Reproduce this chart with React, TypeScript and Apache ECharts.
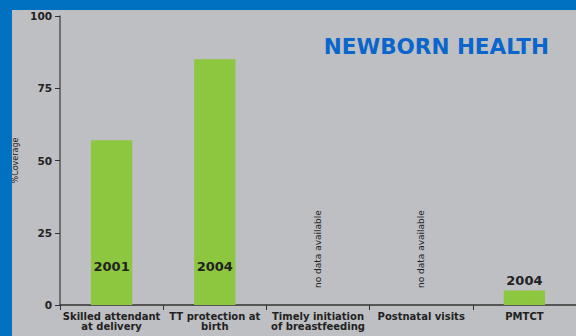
import React, { useEffect, useRef } from "react";
import * as echarts from "echarts";

const categories = [
  "Skilled attendant\nat delivery",
  "TT protection at\nbirth",
  "Timely initiation\nof breastfeeding",
  "Postnatal visits",
  "PMTCT",
];
const coverage: (number | null)[] = [57, 85, null, null, 5];
const yearLabels = ["2001", "2004", "", "", "2004"];
const noDataFlags = [false, false, true, true, false];
const yTicks = [0, 25, 50, 75, 100];
const titleText = "NEWBORN HEALTH";
const yAxisName = "%Coverage";

const FONT = "DejaVu Sans, Verdana, sans-serif";

export default function App() {
  const ref = useRef<HTMLDivElement>(null);
  useEffect(() => {
    document.body.style.margin = "0";
    const chart = echarts.init(ref.current!, null, { renderer: "svg" });
    const barData = coverage.map((v, i) => {
      const isLast = i === coverage.length - 1;
      return {
        value: v === null ? 0 : v,
        label: {
          show: yearLabels[i] !== "",
          formatter: yearLabels[i],
          position: isLast ? "top" : "insideBottom",
          distance: isLast ? 4 : 32,
          fontSize: 13,
          fontWeight: "bold",
          color: "#222",
          fontFamily: FONT,
        },
      };
    });
    const noData = noDataFlags.map((f) => ({
      value: 0,
      label: {
        show: f,
        formatter: "no data available",
        position: "top",
        distance: 17,
        rotate: 90,
        align: "left",
        verticalAlign: "middle",
        fontSize: 9,
        color: "#222",
        fontFamily: FONT,
      },
    }));
    chart.setOption({
      animation: false,
      backgroundColor: "#BEBFC3",
      graphic: [
        { type: "rect", left: 0, top: 0, shape: { width: 576, height: 10 }, style: { fill: "#0070C0" }, z: 100 },
        { type: "rect", left: 0, top: 0, shape: { width: 12, height: 336 }, style: { fill: "#0070C0" }, z: 100 },
      ],
      title: {
        text: titleText,
        right: 22,
        top: 30,
        textStyle: { color: "#0A66CC", fontSize: 21.5, fontWeight: "bold", fontFamily: FONT },
      },
      grid: { left: 60, right: -4, top: 16, bottom: 31, containLabel: false },
      xAxis: {
        type: "category",
        data: categories,
        axisLine: { lineStyle: { color: "#333", width: 1.5 } },
        axisTick: { show: true, length: 5, lineStyle: { color: "#333" } },
        axisLabel: {
          interval: 0,
          margin: 6,
          fontSize: 10,
          lineHeight: 10,
          fontWeight: "bold",
          color: "#222",
          fontFamily: FONT,
        },
      },
      yAxis: {
        type: "value",
        min: yTicks[0],
        max: yTicks[yTicks.length - 1],
        interval: 25,
        name: yAxisName,
        nameLocation: "middle",
        nameGap: 38,
        nameTextStyle: { fontSize: 8, color: "#222", fontFamily: FONT },
        splitLine: { show: false },
        axisLine: { show: true, lineStyle: { color: "#555", width: 1.5 } },
        axisTick: { show: true, length: 5, lineStyle: { color: "#333" } },
        axisLabel: { margin: 8, fontSize: 10.5, fontWeight: "bold", color: "#222", fontFamily: FONT },
      },
      series: [
        {
          type: "bar",
          data: barData,
          barWidth: "40%",
          itemStyle: { color: "#8DC63F" },
          z: 2,
        },
        {
          type: "bar",
          data: noData,
          barWidth: "40%",
          barGap: "-100%",
          itemStyle: { color: "transparent" },
          z: 3,
        },
      ],
    });
    return () => chart.dispose();
  }, []);
  return <div ref={ref} style={{ position: "fixed", left: 0, top: 0, width: 576, height: 336 }} />;
}
